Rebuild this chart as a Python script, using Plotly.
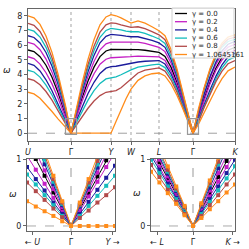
import plotly.graph_objects as go

# ---------------- data ----------------
k = [0, 6, 12, 18, 24, 30, 37.5, 38.6, 39.7, 40.8, 41.9, 43,
     44.1, 45.2, 46.3, 47.4, 48.5, 54, 60, 66, 72, 78, 83,
     88, 93, 98, 103,
     110, 117, 124, 131,
     137, 143, 149, 154, 159.5, 160.6, 161.7, 162.8, 163.9, 165,
     166.1, 167.2, 168.3, 169.4, 170.5, 176, 182, 188, 194, 200, 207]

sym_pos = [0, 43, 83, 103, 131, 165, 207]
sym_labels = ["<i>U</i>", "Γ", "<i>Y</i>", "<i>W</i>", "<i>L</i>", "Γ", "<i>K</i>"]

gamma_labels = ["γ = 0.0", "γ = 0.2", "γ = 0.4", "γ = 0.6", "γ = 0.8", "γ = 1.0645161"]
gamma_colors = ["#000000", "#c41ec4", "#1c1c9c", "#13bcbc", "#b24a4a", "#ff8c1a"]

w_black = [5.67, 5.56, 5.21, 4.63, 3.81, 2.77, 1.25, 1.00, .75, .50, .25, 0,
           .25, .49, .74, .98, 1.22, 2.40, 3.56, 4.50, 5.22, 5.60, 5.71,
           5.71, 5.71, 5.71, 5.71,
           5.7, 5.65, 5.58, 5.5,
           5.23, 4.50, 3.45, 2.41, 1.18, .95, .71, .47, .24, 0,
           .24, .48, .73, .97, 1.21, 2.34, 3.47, 4.44, 5.17, 5.65, 5.85]

w_mag_u = [6.19, 6.07, 5.69, 5.05, 4.16, 3.02, 1.38, 1.10, .83, .55, .28, 0,
           .27, .54, .80, 1.07, 1.33, 2.61, 3.87, 4.89, 5.68, 6.09, 6.21,
           6.21, 6.21, 6.22, 6.23,
           6.2, 6.12, 6.0, 5.85,
           5.56, 4.79, 3.67, 2.56, 1.24, .99, .74, .50, .25, 0,
           .26, .53, .79, 1.06, 1.32, 2.55, 3.74, 4.71, 5.42, 5.87, 6.05]
w_mag_l = [5.21, 5.08, 4.71, 4.12, 3.36, 2.40, 1.05, .84, .63, .42, .21, 0,
           .22, .44, .66, .88, 1.10, 2.16, 3.20, 4.05, 4.70, 5.04, 5.14,
           5.15, 5.17, 5.19, 5.21,
           5.25, 5.25, 5.23, 5.2,
           4.95, 4.25, 3.26, 2.28, 1.10, .88, .66, .44, .22, 0,
           .22, .44, .66, .88, 1.10, 2.26, 3.36, 4.29, 4.99, 5.46, 5.65]

w_blue_u = [6.64, 6.52, 6.15, 5.50, 4.56, 3.35, 1.54, 1.23, .92, .62, .31, 0,
            .29, .58, .87, 1.16, 1.44, 2.83, 4.19, 5.30, 6.16, 6.60, 6.73,
            6.71, 6.66, 6.61, 6.57,
            6.57, 6.47, 6.32, 6.15,
            5.85, 5.03, 3.86, 2.69, 1.29, 1.03, .78, .52, .26, 0,
            .29, .57, .86, 1.14, 1.43, 2.64, 3.86, 4.86, 5.60, 6.06, 6.25]
w_blue_l = [4.76, 4.62, 4.24, 3.64, 2.89, 2.02, .88, .70, .53, .35, .18, 0,
            .18, .36, .54, .72, .90, 1.80, 2.70, 3.47, 4.07, 4.43, 4.53,
            4.56, 4.63, 4.70, 4.76,
            4.85, 4.9, 4.93, 4.95,
            4.71, 4.05, 3.10, 2.17, 1.05, .84, .63, .42, .21, 0,
            .20, .40, .59, .79, .99, 1.92, 2.95, 3.89, 4.66, 5.20, 5.45]

w_cyan_u = [7.07, 6.95, 6.55, 5.85, 4.86, 3.57, 1.65, 1.32, .99, .66, .33, 0,
            .31, .62, .92, 1.23, 1.53, 3.00, 4.45, 5.63, 6.53, 7.00, 7.14,
            7.11, 7.04, 6.96, 6.91,
            6.92, 6.8, 6.62, 6.42,
            6.11, 5.25, 4.03, 2.81, 1.35, 1.08, .81, .54, .27, 0,
            .31, .62, .92, 1.23, 1.54, 2.93, 4.20, 5.18, 5.86, 6.25, 6.4]
w_cyan_l = [4.29, 4.17, 3.82, 3.28, 2.60, 1.82, .77, .62, .46, .31, .15, 0,
            .15, .30, .45, .60, .75, 1.50, 2.25, 2.90, 3.39, 3.70, 3.78,
            3.84, 3.98, 4.15, 4.31,
            4.5, 4.6, 4.66, 4.7,
            4.47, 3.84, 2.95, 2.06, .99, .79, .59, .40, .20, 0,
            .18, .36, .53, .71, .89, 1.83, 2.81, 3.71, 4.45, 4.97, 5.2]

w_brown_u = [7.48, 7.35, 6.93, 6.19, 5.14, 3.78, 1.76, 1.41, 1.06, .70, .35, 0,
             .32, .65, .97, 1.29, 1.61, 3.16, 4.68, 5.93, 6.88, 7.38, 7.52,
             7.48, 7.38, 7.28, 7.21,
             7.25, 7.12, 6.92, 6.7,
             6.37, 5.48, 4.20, 2.93, 1.40, 1.12, .84, .56, .28, 0,
             .32, .64, .96, 1.28, 1.60, 3.00, 4.30, 5.30, 5.99, 6.40, 6.55]
w_brown_l = [3.71, 3.60, 3.30, 2.84, 2.25, 1.57, .65, .52, .39, .26, .13, 0,
             .12, .23, .35, .46, .58, 1.13, 1.70, 2.19, 2.56, 2.79, 2.85,
             2.9, 3.1, 3.4, 3.74,
             4.1, 4.3, 4.4, 4.45,
             4.23, 3.64, 2.79, 1.95, .91, .73, .54, .36, .18, 0,
             .15, .31, .46, .62, .77, 1.74, 2.68, 3.53, 4.23, 4.73, 4.95]

w_orange_u = [8.0, 7.86, 7.41, 6.62, 5.50, 4.04, 1.87, 1.50, 1.12, .75, .37, 0,
              .35, .70, 1.04, 1.39, 1.73, 3.39, 5.03, 6.36, 7.38, 7.92, 8.07,
              8.0, 7.85, 7.65, 7.5,
              7.65, 7.5, 7.25, 6.98,
              6.64, 5.71, 4.38, 3.06, 1.49, 1.19, .89, .59, .30, 0,
              .34, .68, 1.02, 1.36, 1.68, 3.07, 4.40, 5.42, 6.13, 6.55, 6.7]
w_orange_l = [2.79, 2.68, 2.38, 1.96, 1.48, .98, .37, .29, .22, .15, .07, 0,
              0, 0, 0, 0, 0, 0, 0, 0, 0, 0, 0,
              .8, 1.6, 2.35, 3.0,
              3.6, 3.9, 4.05, 4.1,
              3.90, 3.35, 2.57, 1.80, .81, .65, .49, .33, .16, 0,
              .12, .25, .37, .50, .62, 1.38, 2.20, 3.01, 3.72, 4.25, 4.5]

branches = [[w_black], [w_mag_l, w_mag_u], [w_blue_l, w_blue_u],
            [w_cyan_l, w_cyan_u], [w_brown_l, w_brown_u], [w_orange_l, w_orange_u]]

inset_half = 5.5
inset_ylim = [-0.075, 1.0]
main_ylim = [-0.53, 8.46]
inset_left_labels = ["← <i>U</i>", "Γ", "<i>Y</i> →"]
inset_right_labels = ["← <i>L</i>", "Γ", "<i>K</i> →"]

# ---------------- figure ----------------
W = H = 249
def px(x):
    return x / W
def py(y):
    return 1 - y / H

fig = go.Figure()
for gi, group in enumerate(branches):
    c = gamma_colors[gi]
    for vals in group:
        fig.add_trace(go.Scatter(x=k, y=vals, mode="lines", line=dict(color=c, width=1.3),
                                 xaxis="x", yaxis="y", showlegend=False, hoverinfo="skip"))
        for ax in ("2", "3"):
            fig.add_trace(go.Scatter(x=k, y=vals, mode="lines+markers",
                                     line=dict(color=c, width=1),
                                     marker=dict(symbol="square", size=4, color=c),
                                     xaxis="x" + ax, yaxis="y" + ax, showlegend=False,
                                     hoverinfo="skip"))

g1, g2 = sym_pos[1], sym_pos[5]
tickfont = dict(family="DejaVu Sans", size=8, color="#222")
axline = dict(showline=True, linecolor="#666", linewidth=1, mirror=True,
              showgrid=False, zeroline=False, ticks="outside", ticklen=3,
              tickcolor="#666", tickfont=tickfont, automargin=False)

fig.update_layout(
    width=W, height=H, autosize=False,
    margin=dict(l=0, r=0, t=0, b=0),
    paper_bgcolor="white", plot_bgcolor="white",
    showlegend=False,
    xaxis=dict(domain=[px(28), px(235)], range=[sym_pos[0], sym_pos[-1]], anchor="y",
               tickvals=sym_pos, ticktext=sym_labels, **axline),
    yaxis=dict(domain=[py(141), py(9)], range=main_ylim, anchor="x",
               tickvals=list(range(0, 9)), **axline),
    xaxis2=dict(domain=[px(27), px(115)], range=[g1 - inset_half, g1 + inset_half], anchor="y2",
                tickvals=[g1 - 4.8, g1, g1 + 5.2], ticktext=inset_left_labels, **axline),
    yaxis2=dict(domain=[py(231), py(159)], range=inset_ylim, anchor="x2",
                tickvals=[0, 1], **axline),
    xaxis3=dict(domain=[px(151), px(235)], range=[g2 - inset_half, g2 + inset_half], anchor="y3",
                tickvals=[g2 - 4.7, g2, g2 + 5.2], ticktext=inset_right_labels, **axline),
    yaxis3=dict(domain=[py(231), py(159)], range=inset_ylim, anchor="x3",
                tickvals=[0, 1], **axline),
)

shapes = []
for xp in sym_pos[1:-1]:
    shapes.append(dict(type="line", xref="x", yref="y domain", x0=xp, x1=xp, y0=0, y1=1,
                       line=dict(color="#b8b8b8", width=1.3, dash="dot"), layer="below"))
shapes.append(dict(type="line", xref="x domain", yref="y", x0=0, x1=1, y0=0, y1=0,
                   line=dict(color="#888", width=0.8, dash="dash"), layer="below"))
for g in (g1, g2):
    shapes.append(dict(type="rect", xref="x", yref="y", x0=g - inset_half, x1=g + inset_half,
                       y0=inset_ylim[0], y1=inset_ylim[1],
                       line=dict(color="#999", width=1.2), layer="above"))
for ax, g in (("2", g1), ("3", g2)):
    shapes.append(dict(type="line", xref="x" + ax, yref="y" + ax + " domain", x0=g, x1=g, y0=0, y1=1,
                       line=dict(color="#999", width=1, dash="dash"), layer="below"))
    shapes.append(dict(type="line", xref="x" + ax + " domain", yref="y" + ax, x0=0, x1=1, y0=0, y1=0,
                       line=dict(color="#aaa", width=1, dash="dash"), layer="below"))

shapes.append(dict(type="rect", xref="paper", yref="paper", x0=px(172), x1=px(234),
                   y0=py(58), y1=py(8), fillcolor="rgba(255,255,255,0.85)",
                   line=dict(color="#d0d0d0", width=1), layer="above"))
annotations = []
for i, (lab, c) in enumerate(zip(gamma_labels, gamma_colors)):
    yy = 13.5 + 8.2 * i
    shapes.append(dict(type="line", xref="paper", yref="paper", x0=px(175), x1=px(187),
                       y0=py(yy), y1=py(yy), line=dict(color=c, width=1.3), layer="above"))
    annotations.append(dict(xref="paper", yref="paper", x=px(190), y=py(yy), text=lab,
                            showarrow=False, xanchor="left", yanchor="middle",
                            font=dict(family="DejaVu Sans", size=7, color="#222")))

for (xx, yy) in ((7, 70), (13, 194), (137, 193)):
    annotations.append(dict(xref="paper", yref="paper", x=px(xx), y=py(yy), text="<i>ω</i>",
                            showarrow=False, xanchor="center", yanchor="middle",
                            font=dict(family="DejaVu Sans", size=9, color="#222")))

fig.update_layout(shapes=shapes, annotations=annotations)
fig.write_html("out.html", config={"displayModeBar": False},
               post_script="document.body.style.margin='0';document.body.style.overflow='hidden';")
